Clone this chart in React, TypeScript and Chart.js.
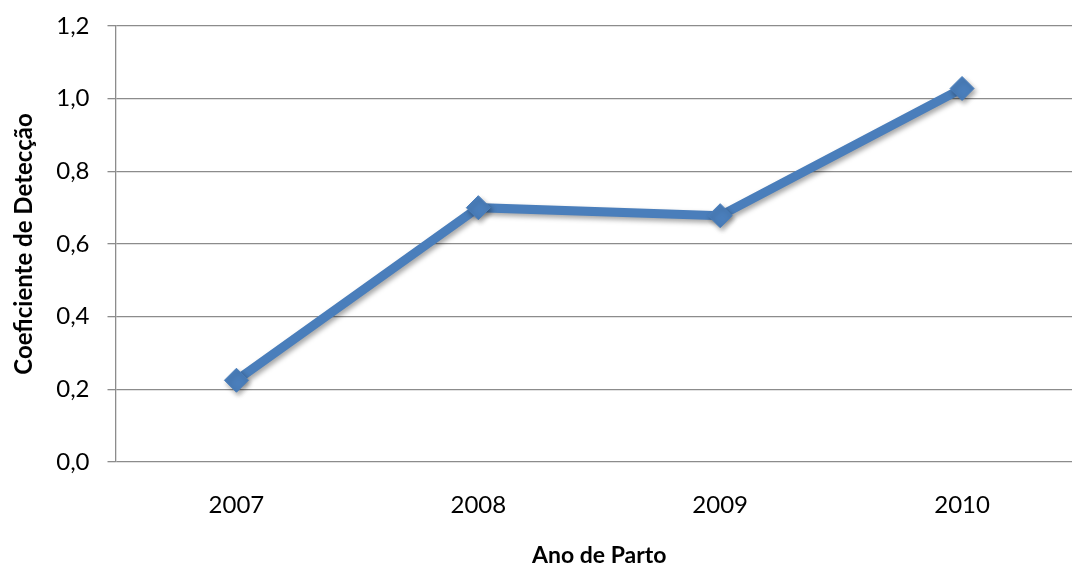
import React, { useEffect, useRef } from "react";
import { Chart, registerables } from "chart.js";

Chart.register(...registerables);

const categories: string[] = ["2007", "2008", "2009", "2010"];
const detectionValues: number[] = [0.225, 0.7, 0.678, 1.028];
const yTickValues: number[] = [0, 0.2, 0.4, 0.6, 0.8, 1.0, 1.2];
const yTitle = "Coeficiente de Detecção";
const xTitle = "Ano de Parto";

const shadowPlugin = {
  id: "markerShadow",
  beforeDatasetsDraw(chart: any) {
    const ctx = chart.ctx;
    ctx.save();
    ctx.shadowColor = "rgba(0,0,0,0.35)";
    ctx.shadowBlur = 5;
    ctx.shadowOffsetX = 2;
    ctx.shadowOffsetY = 3;
  },
  afterDatasetsDraw(chart: any) {
    chart.ctx.restore();
  },
};

export default function App() {
  const ref = useRef<HTMLCanvasElement | null>(null);

  useEffect(() => {
    if (!ref.current) return;
    const chart = new Chart(ref.current, {
      type: "line",
      data: {
        labels: categories,
        datasets: [
          {
            data: detectionValues,
            borderColor: "#4A7EBB",
            backgroundColor: "#4A7EBB",
            borderWidth: 9,
            pointStyle: "rectRot",
            pointRadius: 12,
            pointHoverRadius: 12,
            pointBorderWidth: 1,
            pointBackgroundColor: "#4A7EBB",
            pointBorderColor: "#4A7EBB",
            tension: 0,
            fill: false,
          },
        ],
      },
      plugins: [shadowPlugin],
      options: {
        responsive: false,
        animation: false,
        layout: { padding: { top: 26, left: 0, right: 0, bottom: 0 } },
        plugins: {
          legend: { display: false },
          tooltip: { enabled: false },
        },
        scales: {
          x: {
            offset: true,
            grid: { display: false, drawTicks: false },
            border: { display: false },
            ticks: {
              color: "#000",
              padding: 29,
              font: { family: "Lato", size: 24 },
            },
            title: {
              display: true,
              text: xTitle,
              color: "#000",
              padding: { top: 0, bottom: -2 },
              font: { family: "Lato", size: 23, weight: "bold" },
            },
            afterFit(scale: any) {
              scale.height = 105;
            },
          },
          y: {
            min: 0,
            max: 1.2,
            afterBuildTicks(scale: any) {
              scale.ticks = yTickValues.map((v) => ({ value: v }));
            },
            grid: {
              color: "#8c8c8c",
              lineWidth: 1.3,
              drawTicks: true,
              tickLength: 8,
            },
            border: { display: true, color: "#8c8c8c", width: 1.3 },
            ticks: {
              color: "#000",
              padding: 18,
              font: { family: "Lato", size: 24 },
              callback: (v: any) => Number(v).toFixed(1).replace(".", ","),
            },
            title: {
              display: true,
              text: yTitle,
              color: "#000",
              padding: { top: 10, bottom: 0 },
              font: { family: "Lato", size: 24, weight: "bold" },
            },
            afterFit(scale: any) {
              scale.width = 115.5;
              scale.paddingTop = 0;
              scale.paddingBottom = 0;
            },
          },
        },
      },
    });
    return () => chart.destroy();
  }, []);

  return (
    <div
      style={{
        position: "fixed",
        left: 0,
        top: 0,
        width: 1072,
        height: 567,
        overflow: "hidden",
        background: "#fff",
      }}
    >
      <canvas ref={ref} width={1096} height={567} style={{ display: "block" }} />
    </div>
  );
}
